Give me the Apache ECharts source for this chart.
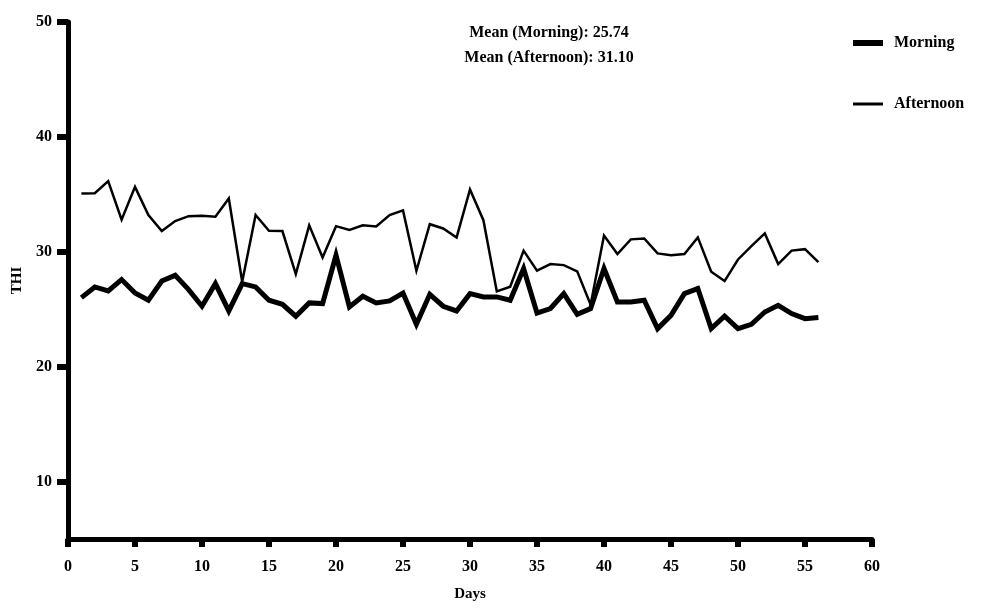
<!DOCTYPE html>
<html>
<head>
<meta charset="utf-8">
<script src="https://cdn.jsdelivr.net/npm/echarts@6/dist/echarts.min.js"></script>
<style>html,body{margin:0;padding:0;background:#fff}#c{width:990px;height:609px}</style>
</head>
<body>
<div id="c"></div>
<script>
const days = [1,2,3,4,5,6,7,8,9,10,11,12,13,14,15,16,17,18,19,20,21,22,23,24,25,26,27,28,29,30,31,32,33,34,35,36,37,38,39,40,41,42,43,44,45,46,47,48,49,50,51,52,53,54,55,56];
const morning = [26.01,26.94,26.59,27.58,26.41,25.78,27.46,27.95,26.71,25.26,
  27.23,24.85,27.23,26.94,25.78,25.43,24.39,25.55,25.49,29.7,
  25.2,26.13,25.55,25.72,26.41,23.69,26.3,25.26,24.85,26.36,
  26.07,26.07,25.78,28.54,24.67,25.06,26.36,24.56,25.06,28.54,
  25.63,25.63,25.78,23.31,24.47,26.36,26.8,23.31,24.39,23.31,
  23.69,24.76,25.34,24.62,24.18,24.27];
const afternoon = [35.08,35.1,36.15,32.8,35.65,33.2,31.8,32.67,33.1,33.13,
  33.05,34.64,27.4,33.2,31.83,31.8,28.06,32.3,29.5,32.23,
  31.9,32.3,32.2,33.2,33.6,28.35,32.4,32.03,31.25,35.42,
  32.75,26.55,26.96,30.1,28.35,28.93,28.84,28.3,25.4,31.42,
  29.8,31.08,31.16,29.86,29.69,29.8,31.25,28.26,27.45,29.33,
  30.5,31.6,28.93,30.1,30.23,29.1];
const yTicks = [10,20,30,40,50];
const meanText = ['Mean (Morning): 25.74', 'Mean (Afternoon): 31.10'];

const font = 'Liberation Serif';
const chart = echarts.init(document.getElementById('c'), null, {renderer: 'canvas'});
chart.setOption({
  animation: false,
  backgroundColor: '#fff',
  title: {
    text: meanText.join('\n'),
    left: 544, top: 15, textAlign: 'center',
    textStyle: {fontFamily: font, fontWeight: 'bold', fontSize: 16, color: '#000', lineHeight: 25}
  },
  legend: {
    orient: 'vertical', left: 848, top: 30,
    itemWidth: 30, itemHeight: 14, itemGap: 45,
    textStyle: {fontFamily: font, fontWeight: 'bold', fontSize: 16, color: '#000', padding: [0,0,0,6]},
    data: [
      {name: 'Morning', icon: 'path://M0,0H30V6H0Z'},
      {name: 'Afternoon', icon: 'path://M0,0H30V3H0Z'}
    ]
  },
  grid: {left: 68, right: 118, top: 22, bottom: 70, containLabel: false},
  xAxis: {
    type: 'value', min: 0, max: 60, interval: 5,
    name: 'Days', nameLocation: 'middle', nameGap: 48,
    nameTextStyle: {fontFamily: font, fontWeight: 'bold', fontSize: 15, color: '#000'},
    axisLine: {show: true, lineStyle: {color: '#000', width: 5}},
    axisTick: {show: true, length: 8, lineStyle: {color: '#000', width: 6}},
    axisLabel: {margin: 20, fontFamily: font, fontWeight: 'bold', fontSize: 16, color: '#000'},
    splitLine: {show: false}
  },
  yAxis: {
    type: 'value', min: 5, max: 50,
    name: 'THI', nameLocation: 'middle', nameGap: 43, nameRotate: 90,
    nameTextStyle: {fontFamily: font, fontWeight: 'bold', fontSize: 15, color: '#000'},
    axisLine: {show: true, lineStyle: {color: '#000', width: 5}},
    axisTick: {show: true, length: 11, customValues: yTicks, lineStyle: {color: '#000', width: 6}},
    axisLabel: {margin: 16, customValues: yTicks, fontFamily: font, fontWeight: 'bold', fontSize: 16, color: '#000'},
    splitLine: {show: false}
  },
  series: [
    {
      name: 'Morning', type: 'line', symbol: 'none', color: '#000',
      lineStyle: {width: 5, color: '#000', join: 'miter', miterLimit: 10},
      data: days.map((d, i) => [d, morning[i]])
    },
    {
      name: 'Afternoon', type: 'line', symbol: 'none', color: '#000',
      lineStyle: {width: 2.5, color: '#000', join: 'miter', miterLimit: 10},
      data: days.map((d, i) => [d, afternoon[i]])
    }
  ]
});
</script>
</body>
</html>
